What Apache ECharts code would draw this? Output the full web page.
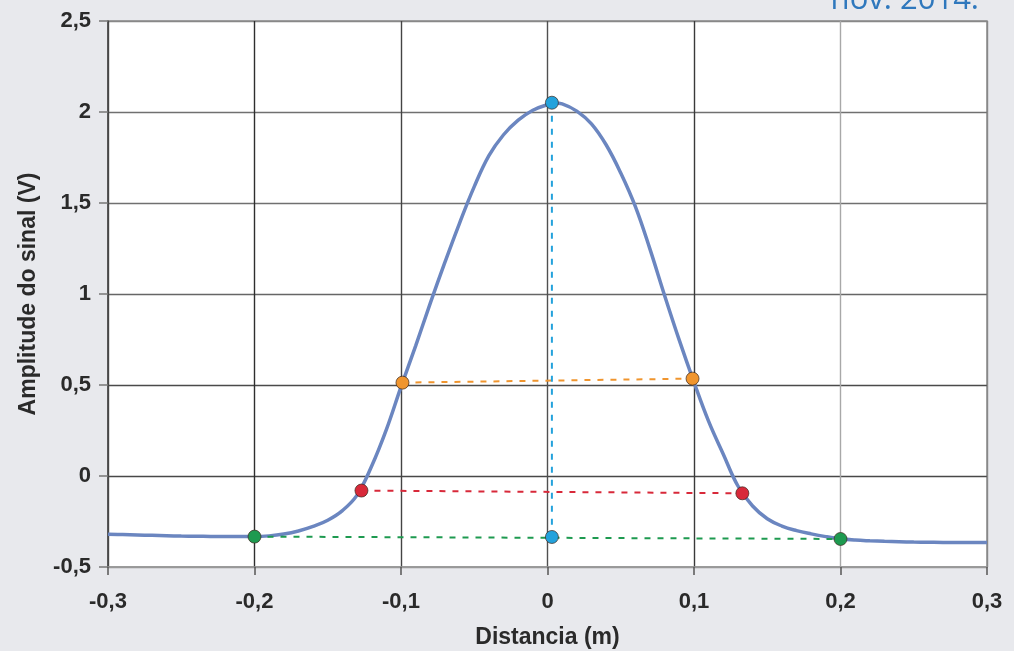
<!DOCTYPE html>
<html>
<head>
<meta charset="utf-8">
<script src="https://cdn.jsdelivr.net/npm/echarts@6/dist/echarts.min.js"></script>
<style>
  html, body { margin: 0; padding: 0; background: #e8e9ed; }
  #main { width: 1014px; height: 651px; }
</style>
</head>
<body>
<div id="main"></div>
<script>
// curve (distance in m, amplitude in V)
var distance = [-0.30, -0.29, -0.28, -0.27, -0.26, -0.25, -0.24, -0.23, -0.22, -0.21,
  -0.20, -0.19, -0.18, -0.17, -0.16, -0.15, -0.14, -0.13, -0.12, -0.11,
  -0.10, -0.09, -0.08, -0.07, -0.06, -0.05, -0.04, -0.03, -0.02, -0.01,
  0.00, 0.005, 0.01, 0.02, 0.03, 0.04, 0.05, 0.06, 0.07, 0.08, 0.09,
  0.10, 0.11, 0.12, 0.13, 0.14, 0.15, 0.16, 0.17, 0.18, 0.19,
  0.20, 0.21, 0.22, 0.23, 0.24, 0.25, 0.26, 0.27, 0.28, 0.29, 0.30];
var amplitude = [-0.320, -0.322, -0.324, -0.326, -0.328, -0.330, -0.331, -0.332, -0.333, -0.333,
  -0.333, -0.329, -0.319, -0.302, -0.277, -0.243, -0.190, -0.105, 0.055, 0.255,
  0.490, 0.715, 0.950, 1.175, 1.390, 1.590, 1.760, 1.875, 1.955, 2.010,
  2.040, 2.050, 2.045, 2.005, 1.935, 1.820, 1.665, 1.480, 1.245, 0.990, 0.745,
  0.515, 0.300, 0.120, -0.055, -0.165, -0.235, -0.275, -0.300, -0.318, -0.333,
  -0.345, -0.352, -0.356, -0.359, -0.361, -0.363, -0.364, -0.365, -0.365, -0.366, -0.366];

// marked points, pairs joined by dashed lines
var orangePts = [[-0.099, 0.513], [0.099, 0.535]];
var redPts = [[-0.127, -0.08], [0.133, -0.095]];
var greenPts = [[-0.2, -0.333], [0.2, -0.346]];
var bluePts = [[0.003, 2.051], [0.003, -0.335]];

var xTicks = [-0.3, -0.2, -0.1, 0, 0.1, 0.2, 0.3];
var yTicks = [-0.5, 0, 0.5, 1, 1.5, 2, 2.5];

var chart = echarts.init(document.getElementById('main'));

function comma(v) {
  return String(Math.round(v * 10) / 10).replace('.', ',');
}

function pairSeries(pts, color) {
  return {
    type: 'line',
    data: pts,
    symbol: 'circle',
    symbolSize: 13,
    z: 5,
    itemStyle: { color: color, borderColor: 'rgba(60,40,30,0.7)', borderWidth: 1 },
    lineStyle: { color: color, width: 2, type: [6, 7] },
    silent: true
  };
}

var option = {
  backgroundColor: '#e8e9ed',
  animation: false,
  textStyle: { fontFamily: 'Liberation Sans, Arial, sans-serif' },
  graphic: [{
    type: 'text',
    right: 35,
    top: -15,
    style: { text: 'nov. 2014.', fill: '#2f78bd', font: '31px "Open Sans", sans-serif' }
  }],
  grid: {
    left: 108, right: 27, top: 21, bottom: 84,
    outerBoundsMode: 'none',
    show: true, backgroundColor: '#ffffff', borderColor: '#8a8a8a', borderWidth: 1.5
  },
  xAxis: {
    type: 'value',
    min: -0.3, max: 0.3, interval: 0.1,
    name: 'Distancia (m)',
    nameLocation: 'middle',
    nameGap: 59,
    nameTextStyle: { fontSize: 23, fontWeight: 'bold', color: '#2a2a2a' },
    axisLine: { show: true, onZero: false, lineStyle: { color: '#999', width: 1.5 } },
    axisTick: { show: true, length: 8, lineStyle: { color: '#555', width: 1.5 } },
    axisLabel: {
      margin: 24, fontSize: 22, fontWeight: 'bold', color: '#2a2a2a',
      formatter: function (v) { return xTicks.indexOf(Math.round(v * 10) / 10) >= 0 ? comma(v) : ''; }
    },
    splitLine: {
      show: true,
      lineStyle: { color: ['#555', '#2e2e2e', '#444', '#505050', '#3a3a3a', '#a8a8a8', '#888'], width: 1.4 }
    }
  },
  yAxis: {
    type: 'value',
    min: -0.5, max: 2.5, interval: 0.5,
    name: 'Amplitude do sinal (V)',
    nameLocation: 'middle',
    nameGap: 68,
    nameTextStyle: { fontSize: 23, fontWeight: 'bold', color: '#2a2a2a' },
    axisLine: { show: true, onZero: false, lineStyle: { color: '#444', width: 1.5 } },
    axisTick: { show: true, length: 9, lineStyle: { color: '#777', width: 1.5 } },
    axisLabel: {
      margin: 17, fontSize: 22, fontWeight: 'bold', color: '#2a2a2a',
      formatter: function (v) { return yTicks.indexOf(v) >= 0 ? comma(v) : ''; }
    },
    splitLine: {
      show: true,
      lineStyle: { color: ['#999', '#484848', '#4a4a4a', '#666', '#707070', '#707070', '#888'], width: 1.4 }
    }
  },
  series: [
    {
      type: 'line',
      data: distance.map(function (x, i) { return [x, amplitude[i]]; }),
      smooth: 0.4,
      showSymbol: false,
      z: 3,
      lineStyle: { color: '#6b86c0', width: 3.5 },
      silent: true
    },
    pairSeries(orangePts, '#f0952e'),
    pairSeries(redPts, '#d8293a'),
    pairSeries(greenPts, '#1e9a50'),
    pairSeries(bluePts, '#23a2dc')
  ]
};
chart.setOption(option);
</script>
</body>
</html>
